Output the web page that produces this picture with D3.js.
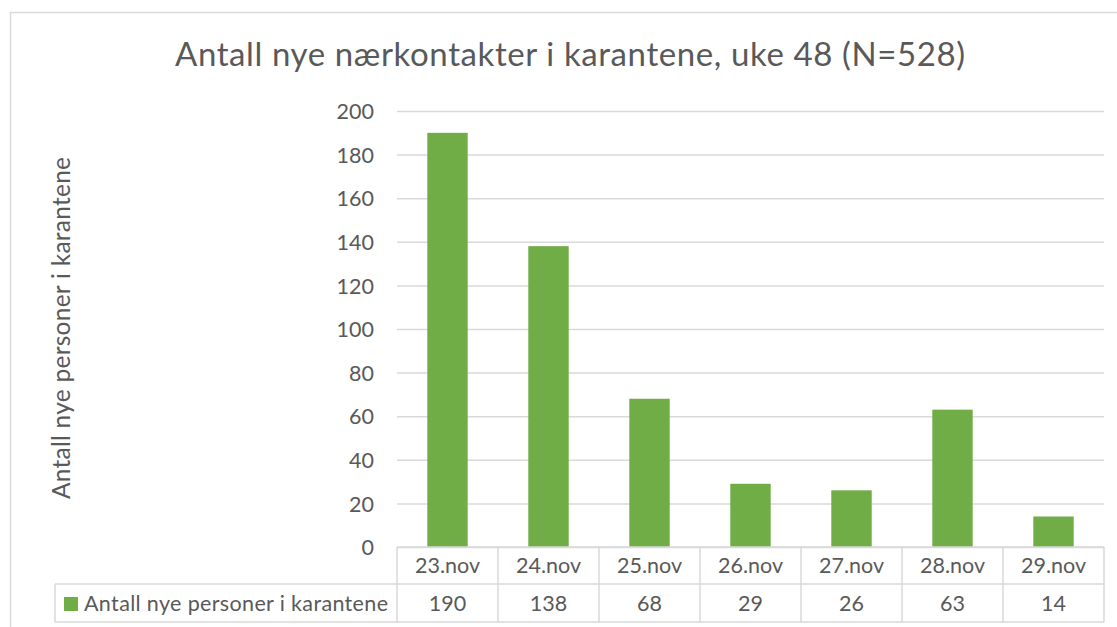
<!DOCTYPE html>
<html>
<head>
<meta charset="utf-8">
<script src="https://cdn.jsdelivr.net/npm/d3@7"></script>
<style>
  body { margin: 0; background: #fff; }
  svg { display: block; font-family: Lato, "Open Sans", sans-serif; }
</style>
</head>
<body>
<svg width="1117" height="627"></svg>
<script>
var dates = ["23.nov", "24.nov", "25.nov", "26.nov", "27.nov", "28.nov", "29.nov"];
var values = [190, 138, 68, 29, 26, 63, 14];
var yTicks = [0, 20, 40, 60, 80, 100, 120, 140, 160, 180, 200];
var seriesName = "Antall nye personer i karantene";
var title = "Antall nye nærkontakter i karantene, uke 48 (N=528)";

var svg = d3.select("svg"),
    font = "Lato, 'Open Sans', sans-serif",
    textColor = "#595959",
    gridColor = "#d9d9d9",
    barColor = "#70ad47",
    bodySize = 21.5,
    margin = {top: 111, left: 397},
    width = 1104 - margin.left,
    height = 547 - margin.top;

// chart border
svg.append("rect")
    .attr("x", 10.5).attr("y", 12.5)
    .attr("width", 1120).attr("height", 630)
    .attr("fill", "none")
    .attr("stroke", gridColor)
    .attr("stroke-width", 1.5);

svg.append("text")
    .attr("x", 570).attr("y", 66)
    .attr("text-anchor", "middle")
    .attr("fill", textColor)
    .attr("font-size", 33)
    .attr("textLength", 790)
    .text(title);

var g = svg.append("g").attr("transform", "translate(" + margin.left + "," + margin.top + ")");

var x = d3.scaleBand().domain(dates).range([0, width]).paddingInner(0.6).paddingOuter(0.3);
var cols = d3.scaleBand().domain(dates).range([0, width]);
var y = d3.scaleLinear().domain([0, 200]).range([height, 0]);

// gridlines + tick labels
g.append("g")
    .call(d3.axisLeft(y).tickValues(yTicks).tickSize(-width).tickPadding(23))
    .attr("font-family", font)
    .attr("font-size", bodySize)
    .call(function(a) {
      a.select(".domain").remove();
      a.selectAll(".tick line").attr("stroke", gridColor).attr("stroke-width", 1.5);
      a.selectAll(".tick text").attr("fill", textColor).attr("dy", "0.36em");
    });

g.selectAll(".bar")
    .data(values)
    .enter().append("rect")
    .attr("x", function(d, i) { return x(dates[i]); })
    .attr("width", x.bandwidth())
    .attr("y", function(d) { return y(d); })
    .attr("height", function(d) { return height - y(d); })
    .attr("fill", barColor);

// y axis title
svg.append("text")
    .attr("transform", "translate(70," + (margin.top + height / 2 - 1) + ") rotate(-90)")
    .attr("text-anchor", "middle")
    .attr("fill", textColor)
    .attr("font-size", 24.5)
    .attr("textLength", 342)
    .text("Antall nye personer i karantene");

// data table
var t = svg.append("g").attr("transform", "translate(" + margin.left + ",547)");
var rowH = 37, tableLeft = 55 - margin.left;
var lineStyle = function(s) { s.attr("stroke", gridColor).attr("stroke-width", 1.5); };

t.append("line").attr("x1", 0).attr("x2", width).attr("y1", 0).attr("y2", 0).call(lineStyle);
t.append("line").attr("x1", tableLeft).attr("x2", width).attr("y1", rowH).attr("y2", rowH).call(lineStyle);
t.append("line").attr("x1", tableLeft).attr("x2", width).attr("y1", rowH * 2 + 1).attr("y2", rowH * 2 + 1).call(lineStyle);
t.append("line").attr("x1", tableLeft).attr("x2", tableLeft).attr("y1", rowH).attr("y2", rowH * 2 + 1).call(lineStyle);
t.selectAll(".vline")
    .data(dates.concat(["end"]))
    .enter().append("line")
    .attr("x1", function(d, i) { return i * cols.bandwidth(); })
    .attr("x2", function(d, i) { return i * cols.bandwidth(); })
    .attr("y1", 0).attr("y2", rowH * 2 + 1)
    .call(lineStyle);

t.selectAll(".date")
    .data(dates)
    .enter().append("text")
    .attr("x", function(d) { return cols(d) + cols.bandwidth() / 2; })
    .attr("y", 26)
    .attr("text-anchor", "middle")
    .attr("fill", textColor)
    .attr("font-size", bodySize)
    .text(function(d) { return d; });

t.selectAll(".val")
    .data(values)
    .enter().append("text")
    .attr("x", function(d, i) { return cols(dates[i]) + cols.bandwidth() / 2; })
    .attr("y", rowH + 27)
    .attr("text-anchor", "middle")
    .attr("fill", textColor)
    .attr("font-size", bodySize)
    .text(function(d) { return d; });

// legend key in the table
t.append("rect")
    .attr("x", 64 - margin.left).attr("y", rowH + 13)
    .attr("width", 14).attr("height", 14)
    .attr("fill", barColor);
t.append("text")
    .attr("x", 84 - margin.left).attr("y", rowH + 27)
    .attr("fill", textColor)
    .attr("font-size", bodySize)
    .attr("textLength", 304)
    .text(seriesName);
</script>
</body>
</html>
